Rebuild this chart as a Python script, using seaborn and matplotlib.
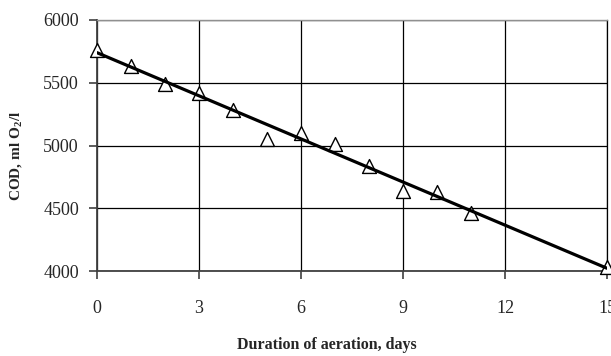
import matplotlib
matplotlib.use("Agg")
import matplotlib.pyplot as plt
import seaborn as sns
import pandas as pd

# Chemical oxygen demand measured during aeration
days = [0, 1, 2, 3, 4, 5, 6, 7, 8, 9, 10, 11, 15]
cod = [5760, 5630, 5490, 5420, 5280, 5050, 5100, 5010, 4840, 4640, 4630, 4460, 4030]
x_ticks = [0, 3, 6, 9, 12, 15]
y_ticks = [4000, 4500, 5000, 5500, 6000]

df = pd.DataFrame({"days": days, "cod": cod})

sns.set_style("white")
plt.rcParams["font.family"] = ["Liberation Serif", "DejaVu Serif"]
plt.rcParams["mathtext.fontset"] = "custom"
plt.rcParams["mathtext.rm"] = "Liberation Serif"
plt.rcParams["mathtext.bf"] = "Liberation Serif:bold"

W, H = 611, 356
fig = plt.figure(figsize=(W / 100, H / 100), dpi=100)
ax = fig.add_axes([97 / W, 1 - 271 / H, 510 / W, 251 / H])

sns.scatterplot(data=df, x="days", y="cod", marker="^", s=100,
                facecolor="white", edgecolor="black", linewidth=1.0,
                clip_on=False, zorder=3, ax=ax, legend=False)
sns.regplot(data=df, x="days", y="cod", ci=None, scatter=False, truncate=True,
            line_kws={"color": "black", "lw": 2.3, "zorder": 4}, ax=ax)

ax.set_xlim(0, 15)
ax.set_ylim(4000, 6000)
ax.set_xticks(x_ticks)
ax.set_yticks(y_ticks)
ax.grid(True, color="black", lw=0.9)
ax.set_axisbelow(True)

ax.tick_params(axis="both", which="major", labelsize=13, length=6, width=1.2,
               color="#404040", direction="out")
ax.tick_params(axis="x", pad=15)
ax.tick_params(axis="y", pad=7)
ax.xaxis.set_ticks_position("bottom")
ax.yaxis.set_ticks_position("left")

for side in ["left", "bottom"]:
    ax.spines[side].set_color("#404040")
    ax.spines[side].set_linewidth(1.3)
ax.spines["top"].set_color("#909090")
ax.spines["top"].set_linewidth(1.0)
ax.spines["right"].set_color("black")
ax.spines["right"].set_linewidth(0.9)

ax.set_xlabel("")
ax.set_ylabel("")
fig.text(327 / W, 1 - 345 / H, "Duration of aeration, days", fontsize=11.5,
         fontweight="bold", ha="center", va="center")
fig.text(17 / W, 1 - 156 / H, r"COD, ml O$_\mathbf{2}$/l", fontsize=11,
         fontweight="bold", rotation=90, ha="center", va="center")

fig.savefig("out.png", dpi=100)
